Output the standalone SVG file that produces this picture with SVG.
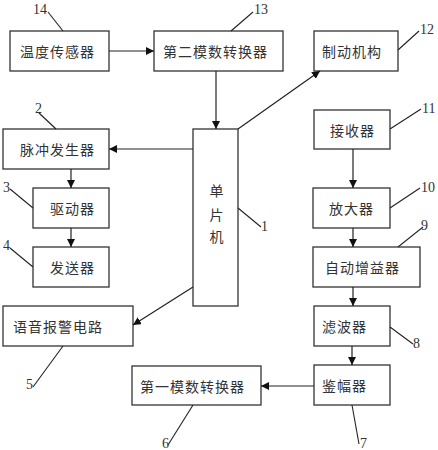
<svg xmlns="http://www.w3.org/2000/svg" width="438" height="450" viewBox="0 0 438 450">
<style>
.box{fill:#fff;stroke:#333;stroke-width:1.3}
.t{font-family:"Noto Sans CJK SC","Noto Sans CJK JP",sans-serif;font-size:14px;fill:#333;letter-spacing:1px;dominant-baseline:central}
.n{font-family:"Liberation Serif",serif;font-size:14px;fill:#333}
.c{stroke:#222;stroke-width:1.2;fill:none}
.l{stroke:#222;stroke-width:1.1;fill:none}
</style>
<defs>
<marker id="a" markerWidth="9" markerHeight="8" refX="8" refY="4" orient="auto" markerUnits="userSpaceOnUse">
<path d="M0,0 L8,4 L0,8 z" fill="#111"/>
</marker>
</defs>
<rect width="438" height="450" fill="#fff"/>

<g id="n14"><rect class="box" x="10" y="31" width="99" height="40"/><text class="t" x="20" y="51">温度传感器</text></g>
<g id="n13"><rect class="box" x="154" y="31" width="129" height="40"/><text class="t" x="163" y="51">第二模数转换器</text></g>
<g id="n12"><rect class="box" x="314" y="31" width="84" height="40"/><text class="t" x="322" y="51">制动机构</text></g>
<g id="n2"><rect class="box" x="3" y="129" width="106" height="40"/><text class="t" x="20" y="149">脉冲发生器</text></g>
<g id="n1"><rect class="box" x="193" y="129" width="45" height="177"/>
<text class="t" x="217" y="190" text-anchor="middle" letter-spacing="0">单</text>
<text class="t" x="217" y="214" text-anchor="middle" letter-spacing="0">片</text>
<text class="t" x="217" y="236" text-anchor="middle" letter-spacing="0">机</text></g>
<g id="n11"><rect class="box" x="314" y="110" width="76" height="39"/><text class="t" x="330" y="130">接收器</text></g>
<g id="n3"><rect class="box" x="33" y="188" width="76" height="40"/><text class="t" x="50" y="208">驱动器</text></g>
<g id="n10"><rect class="box" x="313" y="188" width="77" height="40"/><text class="t" x="329" y="208">放大器</text></g>
<g id="n4"><rect class="box" x="33" y="247" width="76" height="40"/><text class="t" x="50" y="267">发送器</text></g>
<g id="n9"><rect class="box" x="313" y="247" width="107" height="40"/><text class="t" x="325" y="267">自动增益器</text></g>
<g id="n5"><rect class="box" x="3" y="306" width="130" height="40"/><text class="t" x="13" y="326">语音报警电路</text></g>
<g id="n8"><rect class="box" x="314" y="306" width="76" height="40"/><text class="t" x="322" y="326">滤波器</text></g>
<g id="n6"><rect class="box" x="132" y="366" width="129" height="39"/><text class="t" x="140" y="385.5">第一模数转换器</text></g>
<g id="n7"><rect class="box" x="314" y="365" width="76" height="40"/><text class="t" x="322" y="385">鉴幅器</text></g>

<g id="connectors">
<line class="c" x1="109" y1="51" x2="154" y2="51" marker-end="url(#a)"/>
<line class="c" x1="216" y1="71" x2="216" y2="129" marker-end="url(#a)"/>
<line class="c" x1="238" y1="129" x2="320" y2="71" marker-end="url(#a)"/>
<line class="c" x1="193" y1="149" x2="109" y2="149" marker-end="url(#a)"/>
<line class="c" x1="71" y1="169" x2="71" y2="188" marker-end="url(#a)"/>
<line class="c" x1="71" y1="228" x2="71" y2="247" marker-end="url(#a)"/>
<line class="c" x1="193" y1="287" x2="133" y2="325" marker-end="url(#a)"/>
<line class="c" x1="353" y1="149" x2="353" y2="188" marker-end="url(#a)"/>
<line class="c" x1="353" y1="228" x2="353" y2="247" marker-end="url(#a)"/>
<line class="c" x1="353" y1="287" x2="353" y2="306" marker-end="url(#a)"/>
<line class="c" x1="352" y1="346" x2="352" y2="365" marker-end="url(#a)"/>
<line class="c" x1="314" y1="386" x2="261" y2="386" marker-end="url(#a)"/>
</g>

<g id="labels">
<line class="l" x1="48" y1="12" x2="63" y2="31"/><text class="n" x="33" y="14">14</text>
<line class="l" x1="253" y1="12" x2="231" y2="31"/><text class="n" x="254" y="14">13</text>
<line class="l" x1="419" y1="31" x2="398" y2="50"/><text class="n" x="420" y="34">12</text>
<line class="l" x1="421" y1="109" x2="390" y2="129"/><text class="n" x="422" y="113">11</text>
<line class="l" x1="39" y1="113" x2="56" y2="129"/><text class="n" x="35" y="113">2</text>
<line class="l" x1="420" y1="188" x2="390" y2="208"/><text class="n" x="421" y="192">10</text>
<line class="l" x1="423" y1="227" x2="398" y2="247"/><text class="n" x="421" y="230">9</text>
<line class="l" x1="238" y1="208" x2="261" y2="227"/><text class="n" x="261" y="231">1</text>
<line class="l" x1="10" y1="189" x2="33" y2="208"/><text class="n" x="3" y="192">3</text>
<line class="l" x1="10" y1="248" x2="33" y2="267"/><text class="n" x="3" y="250">4</text>
<line class="l" x1="63" y1="346" x2="33" y2="387"/><text class="n" x="26" y="389">5</text>
<line class="l" x1="193" y1="405" x2="168" y2="445"/><text class="n" x="162" y="448">6</text>
<line class="l" x1="352" y1="405" x2="359" y2="444"/><text class="n" x="360" y="448">7</text>
<line class="l" x1="390" y1="327" x2="413" y2="344"/><text class="n" x="413" y="348">8</text>
</g>
</svg>
